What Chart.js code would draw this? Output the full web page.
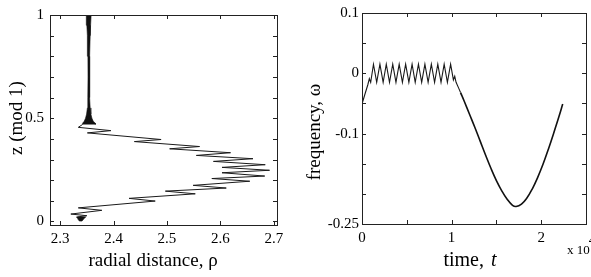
<!DOCTYPE html>
<html>
<head>
<meta charset="utf-8">
<script src="https://cdn.jsdelivr.net/npm/chart.js@4.4.1/dist/chart.umd.min.js"></script>
<style>
  html, body { margin: 0; padding: 0; background: #fff; }
  #wrap { position: relative; width: 591px; height: 277px; overflow: hidden; }
  canvas { position: absolute; top: 0; }
  #left { left: 0; }
  #right { left: 295px; }
</style>
</head>
<body>
<div id="wrap">
  <canvas id="left" width="295" height="277"></canvas>
  <canvas id="right" width="296" height="277"></canvas>
</div>
<script>
// ── left panel: z (mod 1) against radial distance ─────────────────────────────
const RHO_TICKS = [2.3, 2.4, 2.5, 2.6, 2.7];
const Z_TICKS = [0, 0.1, 0.2, 0.3, 0.4, 0.5, 0.6, 0.7, 0.8, 0.9, 1];
const Z_LABELS = { 0: '0', 0.5: '0.5', 1: '1' };

// dense fast oscillation near rho ~ 2.353, drawn as its envelope
const SPINDLE_Z     = [0.470, 0.476, 0.485, 0.500, 0.520, 0.550, 0.600, 0.700, 0.800, 0.900, 0.950, 1.000];
const SPINDLE_LEFT  = [2.342, 2.342, 2.345, 2.3475, 2.3495, 2.351, 2.3518, 2.3522, 2.352, 2.351, 2.350, 2.349];
const SPINDLE_RIGHT = [2.366, 2.366, 2.362, 2.3595, 2.3575, 2.3562, 2.3553, 2.355, 2.3552, 2.3562, 2.357, 2.358];

// slow zig-zag excursion
const ZIG_RHO = [2.342, 2.334, 2.395, 2.351, 2.489, 2.439, 2.561, 2.505, 2.619, 2.555, 2.661, 2.587, 2.684, 2.603, 2.692,
                 2.603, 2.683, 2.584, 2.655, 2.549, 2.611, 2.497, 2.553, 2.429, 2.478, 2.334, 2.378, 2.320, 2.350, 2.332];
const ZIG_Z   = [0.470, 0.456, 0.440, 0.429, 0.397, 0.387, 0.363, 0.352, 0.333, 0.320, 0.304, 0.291, 0.275, 0.262, 0.248,
                 0.236, 0.220, 0.208, 0.195, 0.175, 0.162, 0.147, 0.134, 0.112, 0.099, 0.066, 0.054, 0.036, 0.028, 0.022];

// small dense knot at the bottom
const BLOB_RHO = [2.330, 2.348, 2.344, 2.341, 2.336, 2.333];
const BLOB_Z   = [0.022, 0.022, 0.012, 0.002, 0.002, 0.012];

// ── right panel: frequency against time (t in units of 10^4) ─────────────────
const T_TICKS = [0, 0.5, 1, 1.5, 2, 2.5];
const T_LABELS = { 0: '0', 1: '1', 2: '2' };
const W_TICKS = [-0.25, -0.2, -0.15, -0.1, -0.05, 0, 0.05, 0.1];
const W_LABELS = { '-0.25': '-0.25', '-0.1': '-0.1', 0: '0', 0.1: '0.1' };

const WAVE_T = [0, 0.03, 0.065, 0.082, 0.097,
                0.128, 0.164, 0.200, 0.236, 0.271, 0.307, 0.343, 0.379, 0.415, 0.451, 0.487, 0.523, 0.559,
                0.594, 0.630, 0.666, 0.702, 0.738, 0.774, 0.810, 0.846, 0.882, 0.917, 0.953, 0.989,
                1.020, 1.035, 1.050, 1.080, 1.100];
const WAVE_W = [-0.051, -0.036, -0.019, -0.009, -0.015,
                0.015, -0.015, 0.015, -0.015, 0.015, -0.015, 0.015, -0.015, 0.015, -0.015, 0.015, -0.015, 0.015,
                -0.015, 0.015, -0.015, 0.015, -0.015, 0.015, -0.015, 0.015, -0.015, 0.015, -0.015, 0.015,
                -0.011, -0.005, -0.015, -0.025, -0.032];

const ARC_T = [1.10, 1.14, 1.20, 1.26, 1.32, 1.38, 1.44, 1.50, 1.56, 1.62, 1.68, 1.72, 1.78, 1.84, 1.90, 1.96, 2.02, 2.08, 2.14, 2.20, 2.24];
const ARC_W = [-0.032, -0.046, -0.068, -0.090, -0.113, -0.136, -0.158, -0.178, -0.195, -0.209, -0.219, -0.221, -0.217,
               -0.207, -0.192, -0.173, -0.151, -0.126, -0.099, -0.071, -0.051];

const FONT = 'Liberation Serif';
const TICK_LEN = 4;

function pts(xs, ys) { return xs.map((x, i) => ({ x, y: ys[i] })); }

// inward tick marks on all four sides, box, and axis titles
const framePlugin = {
    id: 'frame',
    afterDraw(chart, args, o) {
        const { ctx, chartArea: a, scales: { x, y } } = chart;
        ctx.save();
        ctx.strokeStyle = '#222';
        ctx.lineWidth = 1;
        ctx.beginPath();
        x.ticks.forEach(t => {
            const px = Math.round(x.getPixelForValue(t.value)) + 0.5;
            ctx.moveTo(px, a.bottom); ctx.lineTo(px, a.bottom - TICK_LEN);
            ctx.moveTo(px, a.top); ctx.lineTo(px, a.top + TICK_LEN);
        });
        y.ticks.forEach(t => {
            const py = Math.round(y.getPixelForValue(t.value)) + 0.5;
            ctx.moveTo(a.left, py); ctx.lineTo(a.left + TICK_LEN, py);
            ctx.moveTo(a.right, py); ctx.lineTo(a.right - TICK_LEN, py);
        });
        ctx.stroke();
        ctx.strokeRect(Math.round(a.left) + 0.5, Math.round(a.top) + 0.5, Math.round(a.right - a.left), Math.round(a.bottom - a.top));

        ctx.fillStyle = '#000';
        ctx.textBaseline = 'alphabetic';
        const f = o.xSize || 19;
        if (o.xItalic) {
            ctx.font = `${f}px "${FONT}"`;
            const w1 = ctx.measureText(o.xTitle).width + (o.gap || 0);
            ctx.font = `italic ${f}px "${FONT}"`;
            const w2 = ctx.measureText(o.xItalic).width;
            const x0 = o.xTitleAt[0] - (w1 + w2) / 2;
            ctx.textAlign = 'left';
            ctx.font = `${f}px "${FONT}"`;
            ctx.fillText(o.xTitle, x0, o.xTitleAt[1]);
            ctx.font = `italic ${f}px "${FONT}"`;
            ctx.fillText(o.xItalic, x0 + w1, o.xTitleAt[1]);
        } else {
            ctx.font = `${f}px "${FONT}"`;
            ctx.textAlign = 'center';
            ctx.fillText(o.xTitle, o.xTitleAt[0], o.xTitleAt[1]);
        }
        ctx.font = `19px "${FONT}"`;
        ctx.textAlign = 'center';
        ctx.translate(o.yTitleAt[0], o.yTitleAt[1]);
        ctx.rotate(-Math.PI / 2);
        ctx.fillText(o.yTitle, 0, 0);
        ctx.restore();

        if (o.exponent) {
            ctx.save();
            ctx.fillStyle = '#000';
            ctx.font = `13px "${FONT}"`;
            ctx.textAlign = 'left';
            ctx.fillText('x 10', o.exponent[0], o.exponent[1]);
            const w = ctx.measureText('x 10').width;
            ctx.font = `13px "${FONT}"`;
            ctx.fillText('4', o.exponent[0] + w - 1, o.exponent[1] - 10);
            ctx.restore();
        }
    }
};

function axis(min, max, tickVals, label, fitSize, horizontal, pad) {
    return {
        type: 'linear',
        min, max,
        grid: { display: false, drawTicks: false },
        border: { display: false },
        afterBuildTicks: s => { s.ticks = tickVals.map(v => ({ value: v })); },
        afterFit: s => { if (horizontal) s.height = fitSize; else s.width = fitSize; },
        ticks: {
            autoSkip: false, maxRotation: 0, padding: pad,
            color: '#000', font: { family: FONT, size: 15 },
            callback: label,
        },
    };
}

const common = {
    responsive: false,
    animation: false,
    events: [],
    plugins: { legend: { display: false }, tooltip: { enabled: false } },
};

new Chart(document.getElementById('left'), {
    type: 'scatter',
    data: {
        datasets: [
            {
                data: pts(SPINDLE_LEFT, SPINDLE_Z).concat(pts(SPINDLE_RIGHT, SPINDLE_Z).reverse()),
                showLine: true, fill: 'shape', backgroundColor: '#111', borderColor: '#111', borderWidth: 0.6, pointRadius: 0,
            },
            {
                data: pts(ZIG_RHO, ZIG_Z),
                showLine: true, borderColor: '#1a1a1a', borderWidth: 1, pointRadius: 0, tension: 0,
            },
            {
                data: pts(BLOB_RHO, BLOB_Z),
                showLine: true, fill: 'shape', backgroundColor: '#111', borderColor: '#111', borderWidth: 0.6, pointRadius: 0,
            },
        ],
    },
    options: {
        ...common,
        layout: { padding: { left: 0, right: 18, top: 13, bottom: 0 } },
        scales: {
            x: axis(2.281, 2.706, RHO_TICKS, v => v.toFixed(1), 52, true, 5),
            y: axis(-0.017, 1, Z_TICKS, v => Z_LABELS[v] ?? '', 50, false, 6),
        },
        plugins: {
            ...common.plugins,
            frame: { xTitle: 'radial distance, ρ', xTitleAt: [153, 266], yTitle: 'z (mod 1)', yTitleAt: [22, 118] },
        },
    },
    plugins: [framePlugin],
});

new Chart(document.getElementById('right'), {
    type: 'scatter',
    data: {
        datasets: [
            {
                data: pts(WAVE_T, WAVE_W),
                showLine: true, borderColor: '#1a1a1a', borderWidth: 1.1, pointRadius: 0, tension: 0,
            },
            {
                data: pts(ARC_T, ARC_W),
                showLine: true, borderColor: '#111', borderWidth: 1.6, pointRadius: 0, tension: 0.4,
            },
        ],
    },
    options: {
        ...common,
        layout: { padding: { left: 0, right: 2, top: 13, bottom: 0 } },
        scales: {
            x: axis(0, 2.5, T_TICKS, v => T_LABELS[v] ?? '', 53, true, 5),
            y: axis(-0.25, 0.1, W_TICKS, v => W_LABELS[v] ?? '', 67, false, 3),
        },
        plugins: {
            ...common.plugins,
            frame: { xTitle: 'time,', xItalic: 't', gap: 7, xSize: 20, xTitleAt: [175, 266], yTitle: 'frequency, ω', yTitleAt: [25, 132], exponent: [272, 254] },
        },
    },
    plugins: [framePlugin],
});
</script>
</body>
</html>
